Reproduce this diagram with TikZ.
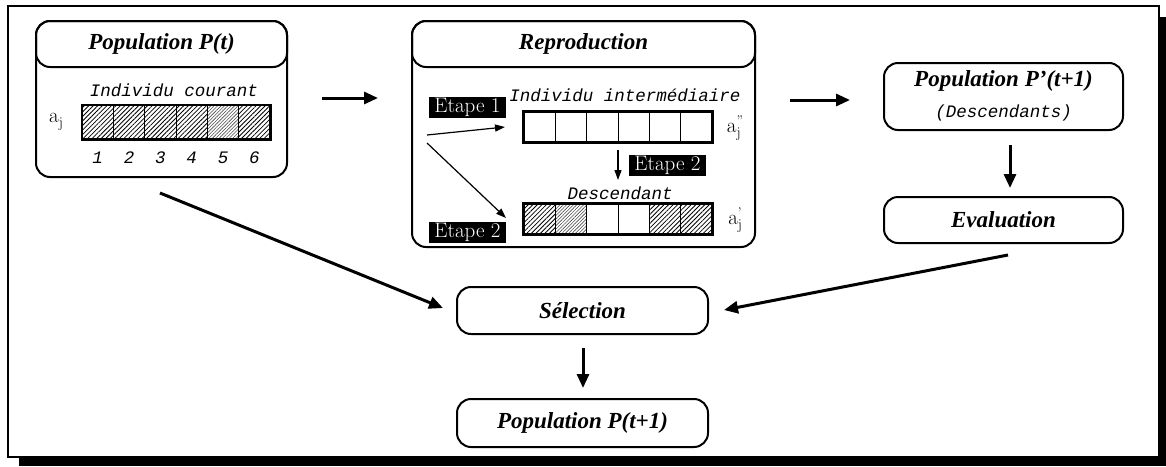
\documentclass[tikz,border=0pt]{standalone}
\usepackage{fontspec}
\newfontfamily\tms{Liberation Serif}
\newfontfamily\cour{Liberation Mono}
\usetikzlibrary{patterns.meta,arrows.meta}
\newcommand\subj{\fontsize{15}{15}\selectfont j}
\newcommand\aj[1]{a\makebox[0pt][l]{\raisebox{-5pt}{\subj}}\raisebox{7pt}{\fontsize{14}{14}\selectfont #1}\hspace{4pt}}
\tikzset{
 rbox/.style={draw, line width=2pt, rounded corners=14pt, inner sep=0pt},
 ttl/.style={font=\tms\bfseries\itshape\fontsize{23}{27}\selectfont},
 mono/.style={font=\cour\itshape\fontsize{17.5}{20}\selectfont, inner sep=0pt},
 etape/.style={fill=black, text=white, font=\fontsize{21}{24}\selectfont, inner sep=0pt, minimum width=77pt, minimum height=21pt},
 cell/.style={draw, line width=1pt, minimum width=31.33pt, inner sep=0pt},
 hatch/.style={pattern={Lines[angle=45,distance=3.2pt,line width=0.8pt]}},
 hatchlight/.style={pattern={Lines[angle=45,distance=2.4pt,line width=0.6pt]}, pattern color=black!70},
 blank/.style={},
 bigarrow/.style={line width=3pt, -{Triangle[length=14pt,width=12pt]}},
 thinarrow/.style={line width=1.2pt, -{Triangle[length=10pt,width=7pt]}},
 lbl/.style={font=\fontsize{21}{24}\selectfont, inner sep=0pt},
}
\begin{document}
\begin{tikzpicture}[x=1pt,y=-1pt]
\useasboundingbox (0,0) rectangle (1166,466);
% frame and shadow
\fill[black] (19,457) rectangle (1166,466);
\fill[black] (1159,17) rectangle (1166,466);
\draw[line width=2pt] (8,6) rectangle (1159,457);

% ---- Population P(t)
\node[rbox, minimum width=251pt, minimum height=156pt] (pt) at (161.5,99) {};
\node[rbox, minimum width=251pt, minimum height=46pt, ttl] (pth) at (161.5,44) {Population P(t)};
\node[mono] (ic) at (174,90) {Individu courant};
\foreach \i/\s in {1/hatch,2/hatch,3/hatch,4/hatch,5/hatchlight,6/hatch}{
  \node[cell, minimum height=34pt, \s] (pa\i) at ({82+31.333*(\i-0.5)},122) {};
  \node[mono] (pn\i) at ({82+31.333*(\i-0.5)},158) {\i};
}
\draw[line width=2.2pt] (pa1.north west) rectangle (pa6.south east);
\node[lbl] (aj) at (54,122) {\aj{}};

% ---- Reproduction
\node[rbox, minimum width=343pt, minimum height=226pt] (rep) at (583.5,134) {};
\node[rbox, minimum width=343pt, minimum height=46pt, ttl] (reph) at (583.5,44) {Reproduction};
\node[mono] (ii) at (625,95) {Individu intermédiaire};
\foreach \i in {1,...,6}{
  \node[cell, minimum height=30pt] (ra\i) at ({524+31.333*(\i-0.5)},127) {};
}
\draw[line width=2.2pt] (ra1.north west) rectangle (ra6.south east);
\foreach \i/\s in {1/hatch,2/hatchlight,3/blank,4/blank,5/hatch,6/hatch}{
  \node[cell, minimum height=30pt, \s] (rb\i) at ({524+31.333*(\i-0.5)},219) {};
}
\draw[line width=2.2pt] (rb1.north west) rectangle (rb6.south east);
\node[mono] (desc) at (620,193) {Descendant};
\node[lbl] (ajs) at (735,128) {\aj{"}};
\node[lbl] (ajp) at (735,220) {\aj{'}};
\node[etape] (e1) at (467.5,107) {Etape 1};
\node[etape] (e2r) at (667.5,165) {Etape 2};
\node[etape] (e2l) at (467.5,232.5) {Etape 2};
\coordinate (s1) at (427,135);
\coordinate (t1) at (505,127);
\coordinate (s2) at (427,143);
\coordinate (t2) at (506,218);
\coordinate (s3) at (618,150);
\coordinate (t3) at (618,180);
\draw[thinarrow] (s1) -- (t1);
\draw[thinarrow] (s2) -- (t2);
\draw[thinarrow] (s3) -- (t3);

% ---- right column
\node[rbox, minimum width=239pt, minimum height=67pt] (pp) at (1003.5,96.5) {};
\node[ttl, inner sep=0pt] (ppt) at (1003.5,81) {Population P’(t+1)};
\node[mono] (pps) at (1003.5,113) {(Descendants)};
\node[rbox, minimum width=239pt, minimum height=46pt, ttl] (ev) at (1003.5,220) {Evaluation};
\node[rbox, minimum width=251pt, minimum height=47pt, ttl] (sel) at (582.5,310.5) {Sélection};
\node[rbox, minimum width=251pt, minimum height=48pt, ttl] (pt1) at (582.5,423) {Population P(t+1)};

% ---- connectors
\coordinate (a1s) at (322,98);  \coordinate (a1t) at (378,98);
\coordinate (a2s) at (790,100); \coordinate (a2t) at (850,100);
\coordinate (a3s) at (1010,145); \coordinate (a3t) at (1010,188);
\coordinate (a4s) at (583,348); \coordinate (a4t) at (583,388);
\coordinate (a5s) at (160,193); \coordinate (a5t) at (443,308);
\coordinate (a6s) at (1008,255); \coordinate (a6t) at (724,310);
\draw[bigarrow] (a1s) -- (a1t);
\draw[bigarrow] (a2s) -- (a2t);
\draw[bigarrow] (a3s) -- (a3t);
\draw[bigarrow] (a4s) -- (a4t);
\draw[bigarrow] (a5s) -- (a5t);
\draw[bigarrow] (a6s) -- (a6t);
\end{tikzpicture}
\end{document}
